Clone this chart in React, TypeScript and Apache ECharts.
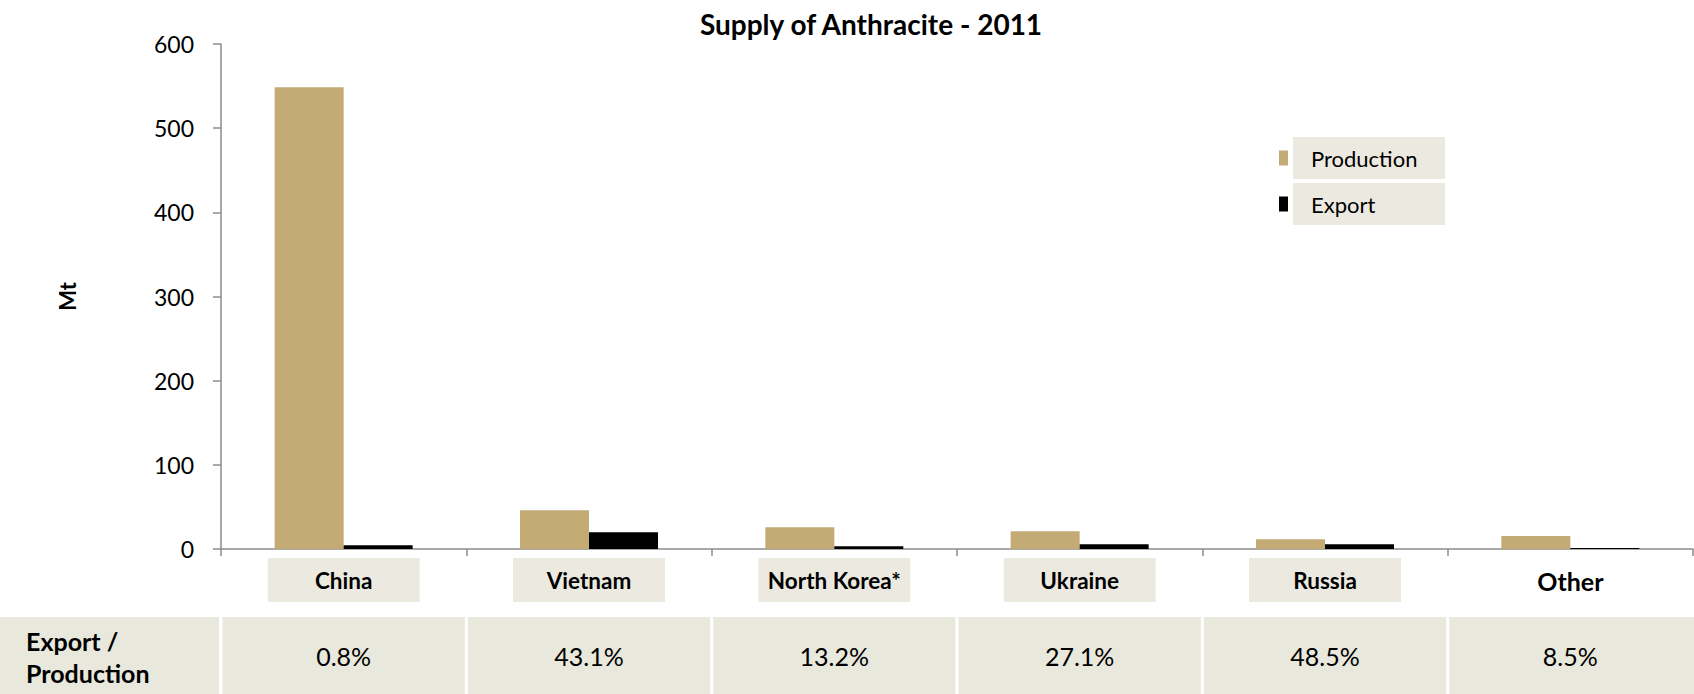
import React, { useEffect, useRef } from "react";
import * as echarts from "echarts";

const titleText = "Supply of Anthracite - 2011";
const categories = ["China", "Vietnam", "North Korea*", "Ukraine", "Russia", "Other"];
const labelBoxed = [true, true, true, true, true, false];
const production = [548.6, 46, 25.7, 21.2, 11.6, 15.4];
const exportValues = [4.4, 19.8, 3.4, 5.7, 5.6, 1.3];
const exportShare = ["0.8%", "43.1%", "13.2%", "27.1%", "48.5%", "8.5%"];
const tableHeader = ["Export /", "Production"];
const yMin = 0;
const yMax = 600;
const yStep = 100;

const W = 1694;
const H = 694;
const FONT = "Lato";
const GOLD = "#C4AA74";
const BEIGE_BOX = "#ECEAE0";
const BEIGE_CELL = "#E9E8DC";
const AXIS = "#8C8C8C";

const gridLeft = 221;
const gridRight = 1;
const gridTop = 44;
const gridBottom = H - 549;

export default function App() {
  const ref = useRef<HTMLDivElement>(null);

  useEffect(() => {
    if (!ref.current) return;
    const chart = echarts.init(ref.current, null, { renderer: "svg" });

    const plotW = W - gridLeft - gridRight;
    const cw = plotW / categories.length;
    const tableTop = 617;
    const tableH = H - tableTop;

    const graphics: any[] = [];
    graphics.push({
      type: "rect",
      shape: { x: 0, y: tableTop, width: gridLeft - 2, height: tableH },
      style: { fill: BEIGE_CELL },
      silent: true,
    });
    tableHeader.forEach((t, i) => {
      graphics.push({
        type: "text",
        x: 26,
        y: 641 + i * 32,
        style: {
          text: t,
          fontFamily: FONT,
          fontWeight: "bold",
          fontSize: 25,
          fill: "#000",
          textAlign: "left",
          textVerticalAlign: "middle",
        },
        silent: true,
      });
    });
    exportShare.forEach((v, i) => {
      const x0 = gridLeft + i * cw + 1.5;
      const x1 = i === categories.length - 1 ? W : gridLeft + (i + 1) * cw - 1.5;
      graphics.push({
        type: "rect",
        shape: { x: x0, y: tableTop, width: x1 - x0, height: tableH },
        style: { fill: BEIGE_CELL },
        silent: true,
      });
      graphics.push({
        type: "text",
        x: gridLeft + (i + 0.5) * cw,
        y: 656,
        style: {
          text: v,
          fontFamily: FONT,
          fontSize: 25,
          fill: "#000",
          textAlign: "center",
          textVerticalAlign: "middle",
        },
        silent: true,
      });
    });

    chart.setOption({
      animation: false,
      backgroundColor: "#fff",
      title: {
        text: titleText,
        left: 866,
        top: 5,
        textAlign: "center",
        textStyle: { fontFamily: FONT, fontWeight: "bold", fontSize: 28, color: "#000" },
      },
      legend: {
        orient: "vertical",
        left: 1279,
        top: 137,
        padding: 0,
        itemGap: 4,
        itemWidth: 9,
        itemHeight: 15,
        icon: "rect",
        data: ["Production", "Export"],
        textStyle: {
          fontFamily: FONT,
          fontSize: 22,
          color: "#000",
          backgroundColor: BEIGE_BOX,
          width: 134,
          height: 42,
          lineHeight: 42,
          padding: [0, 0, 0, 18],
        },
      },
      grid: { left: gridLeft, right: gridRight, top: gridTop, bottom: gridBottom, containLabel: false },
      xAxis: {
        type: "category",
        data: categories,
        axisLine: { show: true, lineStyle: { color: AXIS, width: 1.5 } },
        axisTick: { show: true, length: 7, lineStyle: { color: AXIS, width: 1.5 } },
        axisLabel: {
          interval: 0,
          margin: 9,
          formatter: (val: string, idx: number) =>
            labelBoxed[idx] ? `{box|${val}}` : `{plain|${val}}`,
          rich: {
            box: {
              fontFamily: FONT,
              fontWeight: "bold",
              fontSize: 22.5,
              color: "#000",
              backgroundColor: BEIGE_BOX,
              width: 152,
              height: 44,
              lineHeight: 44,
              align: "center",
            },
            plain: {
              fontFamily: FONT,
              fontWeight: "bold",
              fontSize: 25,
              color: "#000",
              height: 46,
              lineHeight: 46,
              align: "center",
            },
          },
        },
      },
      yAxis: {
        type: "value",
        min: yMin,
        max: yMax,
        interval: yStep,
        name: "Mt",
        nameLocation: "middle",
        nameRotate: 90,
        nameGap: 143,
        nameTextStyle: { fontFamily: FONT, fontWeight: "bold", fontSize: 22, color: "#000" },
        splitLine: { show: false },
        axisLine: { show: true, lineStyle: { color: AXIS, width: 1.5 } },
        axisTick: { show: true, length: 8, lineStyle: { color: AXIS, width: 1.5 } },
        axisLabel: { fontFamily: FONT, fontSize: 23, color: "#000", margin: 27 },
      },
      series: [
        {
          name: "Production",
          type: "bar",
          data: production,
          barWidth: 69,
          barGap: "0%",
          itemStyle: { color: GOLD },
        },
        {
          name: "Export",
          type: "bar",
          data: exportValues,
          barWidth: 69,
          barGap: "0%",
          itemStyle: { color: "#000" },
        },
      ],
      graphic: graphics,
    });

    return () => chart.dispose();
  }, []);

  return (
    <div
      ref={ref}
      style={{ position: "absolute", left: 0, top: 0, width: W, height: H }}
    />
  );
}
